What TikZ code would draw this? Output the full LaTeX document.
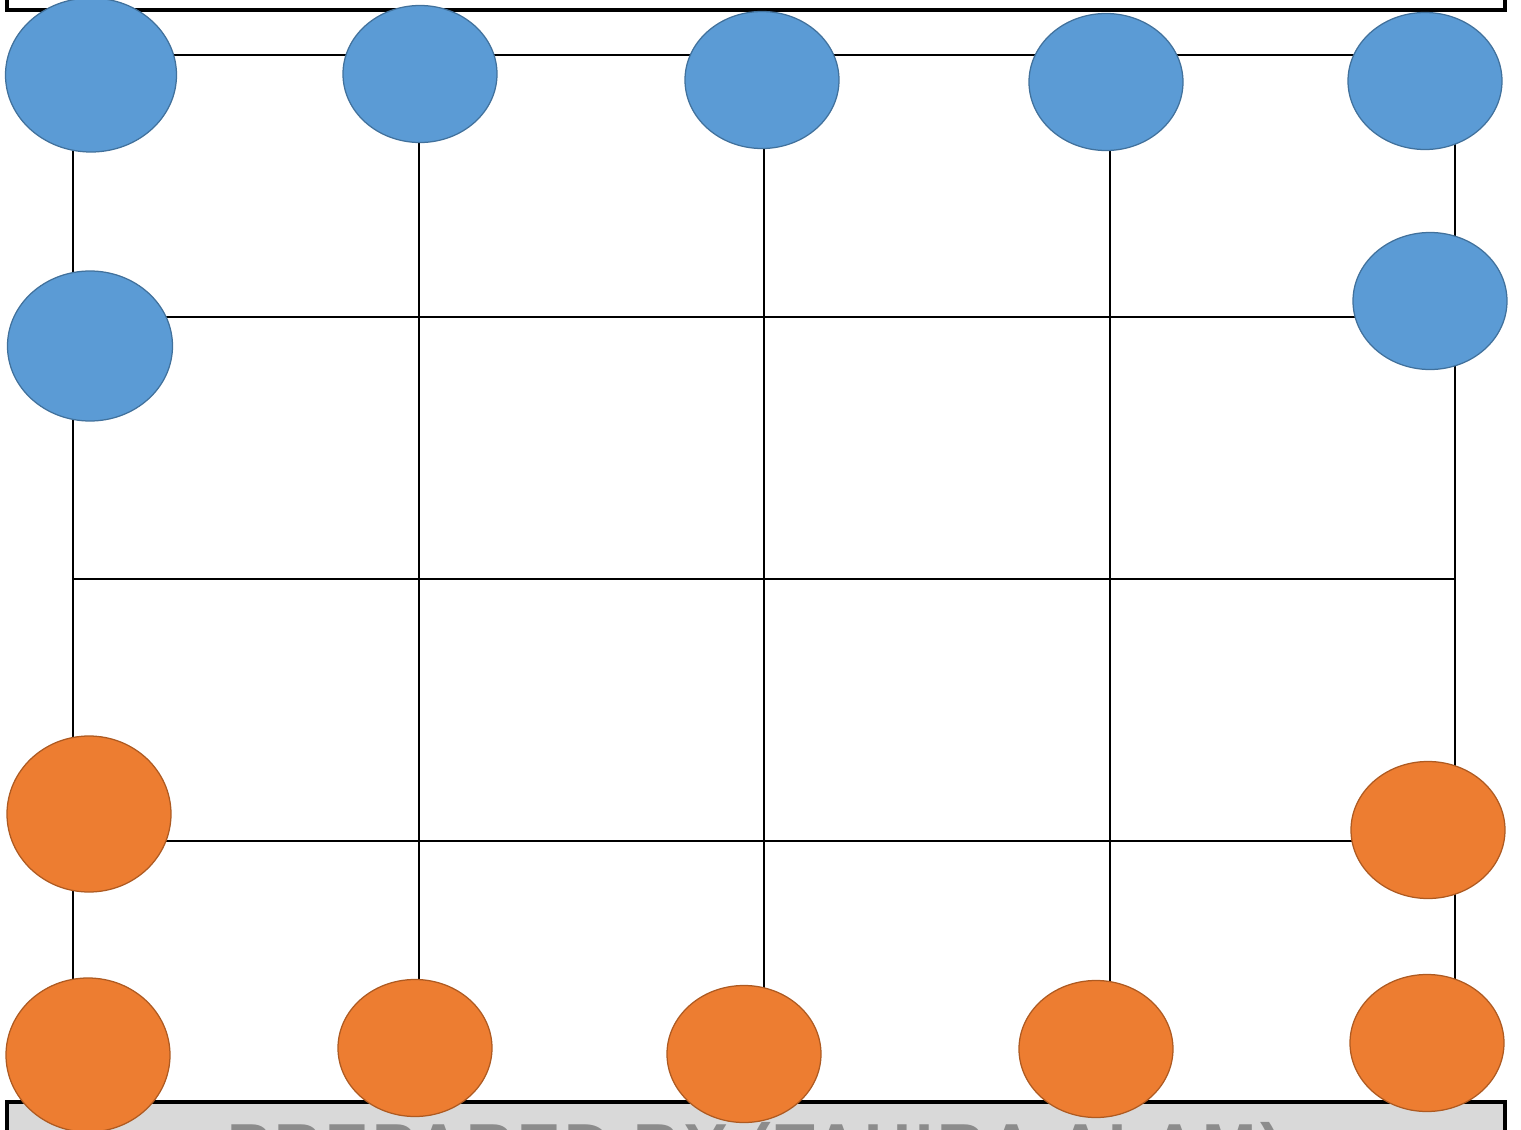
\documentclass[tikz,border=0pt]{standalone}
\usepackage{fontspec}
\newfontfamily\banner[LetterSpace=6]{Liberation Sans}
\usetikzlibrary{shapes.geometric}
\definecolor{mblue}{HTML}{5B9BD5}
\definecolor{mblueline}{HTML}{41719C}
\definecolor{morange}{HTML}{ED7D31}
\definecolor{morangeline}{HTML}{AE5A21}
\definecolor{mgray}{HTML}{D9D9D9}
\tikzset{
  frame/.style={line width=0.7mm,black},
  grid line/.style={line width=0.4mm,black},
  token/.style={ellipse,inner sep=0,line width=0.25mm,minimum width=30.8mm,minimum height=27.4mm},
  token blue/.style={token,fill=mblue,draw=mblueline},
  token orange/.style={token,fill=morange,draw=morangeline},
  big/.style={minimum width=34.2mm,minimum height=30.8mm}
}

\begin{document}
\begin{tikzpicture}[x=0.2mm,y=-0.2mm]

  \clip (0,0) rectangle (1521,1130);
  \useasboundingbox (0,0) rectangle (1521,1130);

  % Top frame
  \draw[frame] (7,-20) -- (7,10) -- (1505,10) -- (1505,-20);

  % Bottom banner
  \draw[frame,fill=mgray] (7,1160) -- (7,1102) -- (1505,1102) -- (1505,1160);
  \node[anchor=north,inner sep=0,text=black!45,font=\banner\bfseries\fontsize{37pt}{37pt}\selectfont]
    (banner) at (755,1122) {PREPARED BY (TAHIRA ALAM)};

  % Board
  \foreach \x in {73,419,764,1110,1455}
    \draw[grid line] (\x,55) -- (\x,1102);
  \foreach \y in {55,317,579,841}
    \draw[grid line] (73,\y) -- (1455,\y);

  % Blue tokens
  \node[token blue,big] (b1) at (91,75) {};
  \node[token blue] (b2) at (420,74) {};
  \node[token blue] (b3) at (762,80) {};
  \node[token blue] (b4) at (1106,82) {};
  \node[token blue] (b5) at (1425,81) {};
  \node[token blue,minimum width=33mm,minimum height=30mm] (b6) at (90,346) {};
  \node[token blue] (b7) at (1430,301) {};

  % Orange tokens
  \node[token orange,minimum width=32.8mm,minimum height=31.2mm] (o1) at (89,814) {};
  \node[token orange] (o2) at (1428,830) {};
  \node[token orange,minimum width=32.8mm,minimum height=30.8mm] (o3) at (88,1055) {};
  \node[token orange] (o4) at (415,1048) {};
  \node[token orange] (o5) at (744,1054) {};
  \node[token orange] (o6) at (1096,1049) {};
  \node[token orange] (o7) at (1427,1043) {};

\end{tikzpicture}
\end{document}
